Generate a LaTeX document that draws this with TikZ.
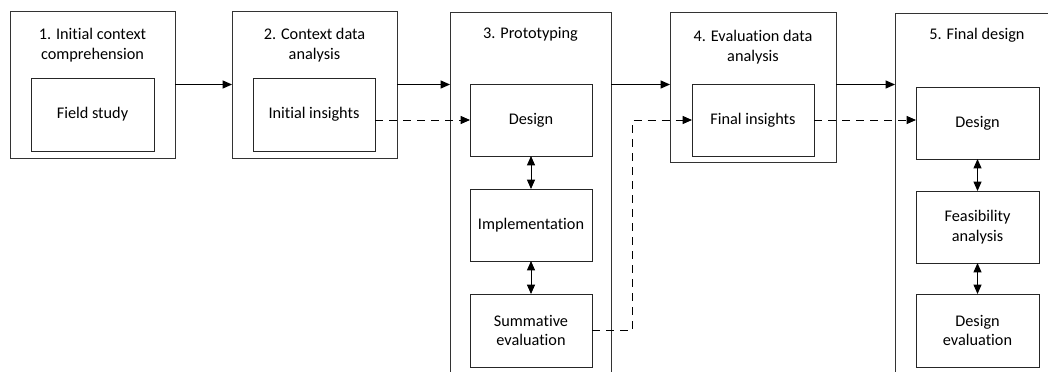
\documentclass[tikz,border=0pt]{standalone}
\usepackage{fontspec}
\setmainfont{Carlito}[RawFeature={-liga,-dlig,-clig}]
\usetikzlibrary{arrows.meta}
\newcommand\px{0.75pt}
\begin{document}
\begin{tikzpicture}[x=0.75pt,y=-0.75pt,
  ob/.style={draw=black!80, line width=0.7pt, inner sep=0pt, outer sep=0pt},
  ib/.style={draw=black!85, line width=0.7pt, inner sep=0pt, outer sep=0pt, align=center, font=\fontsize{12.2}{14.8}\selectfont},
  ttl/.style={align=center, inner sep=0pt, font=\fontsize{12.2}{15}\selectfont},
  arr/.style={line width=0.7pt, -{Triangle[length=7pt,width=6pt]}},
  darr/.style={line width=0.7pt, {Triangle[length=7pt,width=6pt]}-{Triangle[length=7pt,width=6pt]}},
  dsh/.style={line width=0.7pt, dash pattern=on 6pt off 4.5pt, -{Triangle[length=7pt,width=6pt]}}]
\useasboundingbox (0,0) rectangle (1048,371);
\clip (0,0) rectangle (1048,371);
\fill[white] (0,0) rectangle (1048,371);
% outer boxes
\node[ob, minimum width=165*\px, minimum height=147*\px] (o1) at (92.5,84.5) {};
\node[ob, minimum width=165*\px, minimum height=147*\px] (o2) at (314.5,84.5) {};
\node[ob, minimum width=161*\px, minimum height=388*\px] (o3) at (530.5,206) {};
\node[ob, minimum width=166*\px, minimum height=150*\px] (o4) at (753,87) {};
\node[ob, minimum width=164*\px, minimum height=387*\px] (o5) at (977,206.5) {};
% titles
\node[ttl] (t1) at (92.5,45) {1. Initial context\\comprehension};
\node[ttl] (t2) at (314.5,45) {2. Context data\\analysis};
\node[ttl] (t3) at (530.5,34) {3. Prototyping};
\node[ttl] (t4) at (753,47) {4. Evaluation data\\analysis};
\node[ttl] (t5) at (977,35) {5. Final design};
% inner boxes
\node[ib, minimum width=123*\px, minimum height=73*\px] (fs) at (92.5,114.5) {Field study};
\node[ib, minimum width=122*\px, minimum height=73*\px] (ii) at (314,114.5) {Initial insights};
\node[ib, minimum width=122*\px, minimum height=72*\px] (d3) at (531,120) {Design};
\node[ib, minimum width=122*\px, minimum height=72*\px] (im) at (531,225) {Implementation};
\node[ib, minimum width=122*\px, minimum height=73*\px] (se) at (531,330.5) {Summative\\evaluation};
\node[ib, minimum width=122*\px, minimum height=72*\px] (fi) at (753,120) {Final insights};
\node[ib, minimum width=123*\px, minimum height=72*\px] (d5) at (977.5,123) {Design};
\node[ib, minimum width=123*\px, minimum height=72*\px] (fa) at (977.5,227) {Feasibility\\analysis};
\node[ib, minimum width=123*\px, minimum height=73*\px] (de) at (977.5,330.5) {Design\\evaluation};
% solid arrows
\draw[arr] (o1.east) -- (o2.west);
\draw[arr] (o2.east) -- (o2.east -| o3.west);
\draw[arr] (o2.east -| o3.east) -- (o2.east -| o4.west);
\draw[arr] (o2.east -| o4.east) -- (o2.east -| o5.west);
% double arrows
\draw[darr] (d3.south) -- (im.north);
\draw[darr] (im.south) -- (se.north);
\draw[darr] (d5.south) -- (fa.north);
\draw[darr] (fa.south) -- (de.north);
% dashed arrows
\draw[dsh] (d3.west -| ii.east) -- (d3.west);
\draw[dsh] (se.east) -- ++(40,0) |- (fi.west);
\draw[dsh] (fi.east) -- (fi.east -| d5.west);
\end{tikzpicture}
\end{document}
